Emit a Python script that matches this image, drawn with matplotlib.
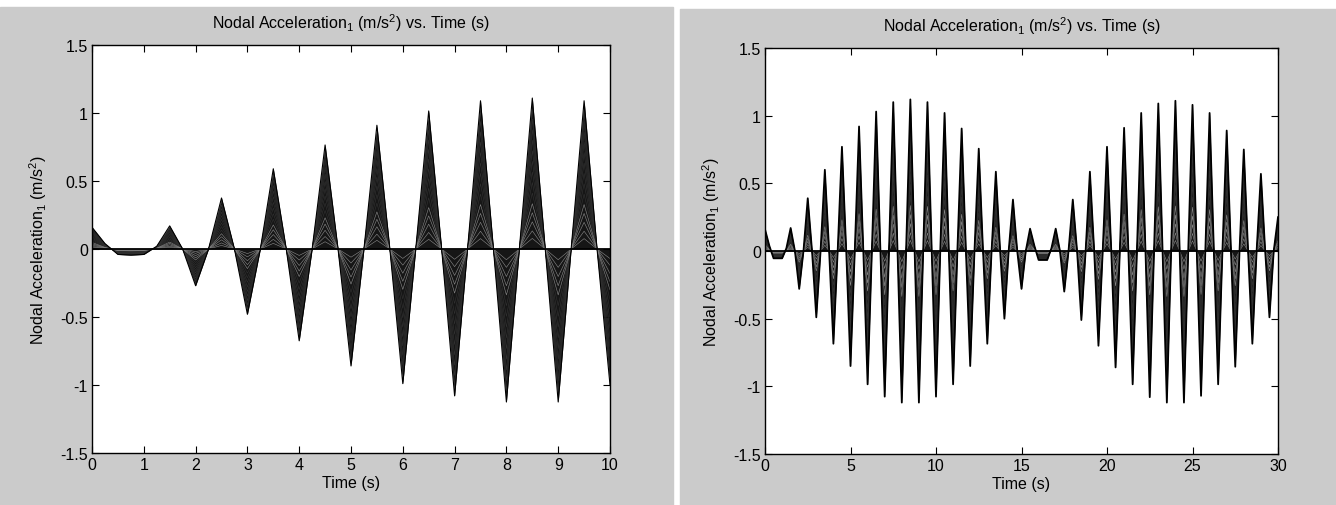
import matplotlib
matplotlib.use("Agg")
import matplotlib.pyplot as plt
from matplotlib.patches import Rectangle
import numpy as np

plt.rcParams['font.family'] = ['Liberation Sans Narrow', 'Liberation Sans', 'DejaVu Sans']
plt.rcParams['mathtext.fontset'] = 'custom'
plt.rcParams['mathtext.rm'] = 'Liberation Sans'

# nodal acceleration samples, every 0.25 s
t_short = np.arange(0, 10.001, 0.25)
acc_short = [
    0.16, 0.04, -0.04, -0.045, -0.04, 0.02, 0.17, 0.0,
    -0.27, 0.0, 0.375, 0.0, -0.48, 0.0, 0.59, 0.0,
    -0.675, 0.0, 0.765, 0.0, -0.86, 0.0, 0.91, 0.0,
    -0.99, 0.0, 1.015, 0.0, -1.08, 0.0, 1.09, 0.0,
    -1.125, 0.0, 1.11, 0.0, -1.125, 0.0, 1.09, 0.0,
    -1.0,
]

t_long = np.arange(0, 30.001, 0.25)
acc_long = [
    0.16, 0.04, -0.054, -0.054, -0.054, 0.02, 0.17, 0.0,
    -0.28, 0.0, 0.39, 0.0, -0.49, 0.0, 0.60, 0.0,
    -0.685, 0.0, 0.77, 0.0, -0.85, 0.0, 0.92, 0.0,
    -0.985, 0.0, 1.03, 0.0, -1.076, 0.0, 1.10, 0.0,
    -1.12, 0.0, 1.12, 0.0, -1.12, 0.0, 1.10, 0.0,
    -1.076, 0.0, 1.02, 0.0, -0.985, 0.0, 0.905, 0.0,
    -0.85, 0.0, 0.756, 0.0, -0.685, 0.0, 0.586, 0.0,
    -0.50, 0.0, 0.38, 0.0, -0.28, 0.0, 0.165, 0.04,
    -0.066, -0.066, -0.066, 0.02, 0.165, 0.0, -0.30, 0.0,
    0.38, 0.0, -0.51, 0.0, 0.586, 0.0, -0.70, 0.0,
    0.77, 0.0, -0.86, 0.0, 0.91, 0.0, -0.985, 0.0,
    1.02, 0.0, -1.08, 0.0, 1.09, 0.0, -1.12, 0.0,
    1.11, 0.0, -1.12, 0.0, 1.08, 0.0, -1.07, 0.0,
    1.02, 0.0, -0.985, 0.0, 0.89, 0.0, -0.855, 0.0,
    0.75, 0.0, -0.685, 0.0, 0.57, 0.0, -0.49, 0.0,
    0.25,
]

# relative amplitude of the other nodes (mode shape)
node_scale = [0.93, 0.86, 0.79, 0.72, 0.65, 0.58, 0.51, 0.44,
              0.37, 0.30, 0.24, 0.18, 0.12, 0.07]

yticks = [-1.5, -1, -0.5, 0, 0.5, 1, 1.5]
ytick_labels = ['-1.5', '-1', '-0.5', '0', '0.5', '1', '1.5']

title = r'Nodal Acceleration$_1$ (m/s$^2$) vs. Time (s)'
ylab = r'Nodal Acceleration$_1$ (m/s$^2$)'

W, H = 1336, 506
fig = plt.figure(figsize=(W / 100, H / 100), dpi=100, facecolor='white')
fig.patches.append(Rectangle((0, 0), 673 / W, 498 / H, transform=fig.transFigure,
                             color='#cbcbcb', zorder=-5))
fig.patches.append(Rectangle((680 / W, 0), 656 / W, 496 / H, transform=fig.transFigure,
                             color='#cbcbcb', zorder=-5))


def draw(ax, t, acc, xmax, xticks, edge_lw):
    acc = np.asarray(acc)
    ax.fill_between(t, 0, acc, color='#161616', lw=0)
    for s in node_scale:
        c = '#333333' if s > 0.3 else '#8c8c8c'
        ax.plot(t, s * acc, color=c, lw=0.4)
    ax.plot(t, acc, color='black', lw=edge_lw)
    ax.plot(t, 0 * acc, color='black', lw=1.3)
    ax.set_xlim(0, xmax)
    ax.set_ylim(-1.5, 1.5)
    ax.set_xticks(xticks)
    ax.set_xticklabels([str(x) for x in xticks])
    ax.set_yticks(yticks)
    ax.set_yticklabels(ytick_labels)
    ax.tick_params(direction='in', top=True, right=True, length=5, width=0.8,
                   labelsize=11.5, pad=3)
    for sp in ax.spines.values():
        sp.set_linewidth(1.0)
    ax.set_title(title, fontsize=11.5, pad=12)
    ax.set_xlabel('Time (s)', fontsize=11.5, labelpad=2)
    ax.set_ylabel(ylab, fontsize=11.5, labelpad=8)


ax1 = fig.add_axes([92 / W, 1 - 454 / H, 518 / W, 408 / H])
draw(ax1, t_short, acc_short, 10, list(range(0, 11)), 0.8)

ax2 = fig.add_axes([765 / W, 1 - 455 / H, 513 / W, 406 / H])
draw(ax2, t_long, acc_long, 30, [0, 5, 10, 15, 20, 25, 30], 1.3)

fig.savefig('out.png', dpi=100, facecolor=fig.get_facecolor())
